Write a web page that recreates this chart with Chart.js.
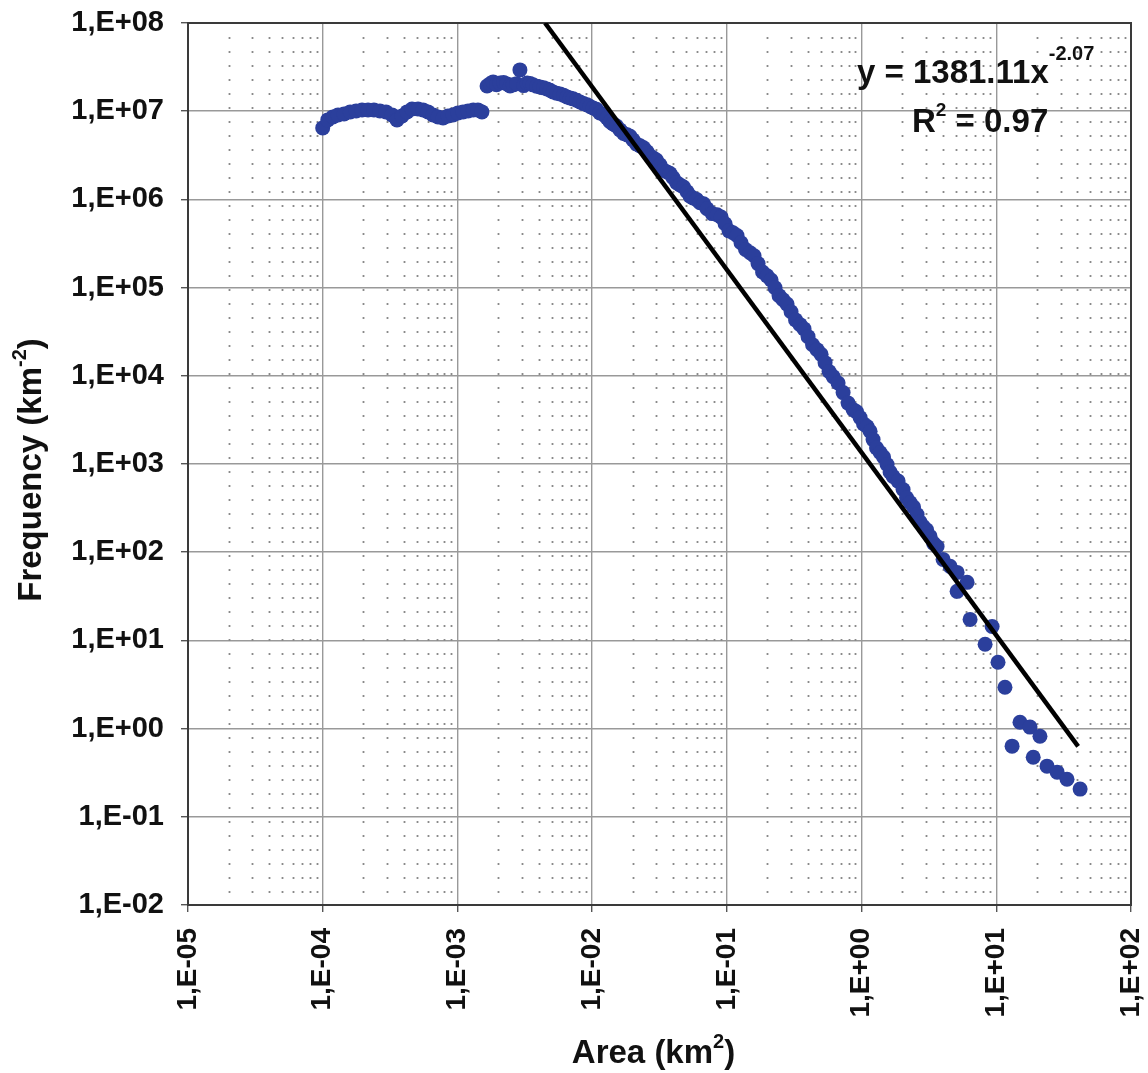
<!DOCTYPE html>
<html>
<head>
<meta charset="utf-8">
<script src="https://cdn.jsdelivr.net/npm/chart.js@4/dist/chart.umd.min.js"></script>
<style>
  html, body { margin: 0; padding: 0; background: #ffffff; }
  #c { display: block; }
</style>
</head>
<body>
<canvas id="c" width="1148" height="1073"></canvas>
<script>
// ---- Data ----
const area = [
  // small-area plateau
  1.0e-4, 1.09e-4, 1.19e-4, 1.30e-4, 1.44e-4, 1.60e-4, 1.77e-4, 1.96e-4, 2.17e-4, 2.40e-4,
  2.66e-4, 2.95e-4, 3.27e-4, 3.56e-4, 3.88e-4, 4.23e-4, 4.60e-4, 5.10e-4, 5.56e-4, 6.05e-4,
  6.59e-4, 7.18e-4, 7.82e-4, 8.51e-4, 9.27e-4, 1.01e-3, 1.10e-3, 1.20e-3, 1.31e-3, 1.42e-3,
  1.52e-3,
  // upper branch
  1.66e-3, 1.75e-3, 1.84e-3, 1.95e-3, 2.07e-3, 2.20e-3, 2.33e-3, 2.46e-3, 2.59e-3, 2.75e-3,
  2.91e-3, 3.10e-3, 3.29e-3, 3.46e-3, 3.64e-3, 3.87e-3, 4.10e-3, 4.36e-3, 4.62e-3, 4.87e-3,
  5.13e-3, 5.45e-3, 5.78e-3, 6.13e-3, 6.51e-3, 6.86e-3, 7.22e-3, 7.66e-3, 8.13e-3, 8.63e-3,
  9.17e-3, 9.65e-3, 1.016e-2, 1.076e-2, 1.14e-2, 1.213e-2, 1.29e-2, 1.358e-2, 1.43e-2, 1.517e-2,
  1.61e-2, 1.712e-2, 1.82e-2, 1.913e-2, 2.01e-2, 2.136e-2, 2.27e-2, 2.41e-2, 2.56e-2, 2.69e-2,
  2.83e-2, 3.00e-2, 3.19e-2, 3.39e-2, 3.60e-2, 3.79e-2, 3.99e-2, 4.23e-2, 4.49e-2, 4.77e-2,
  5.07e-2, 5.33e-2, 5.61e-2, 5.95e-2, 6.32e-2, 6.71e-2, 7.13e-2, 7.77e-2, 8.46e-2, 9.06e-2,
  9.70e-2, 0.1038, 0.111, 0.1189, 0.1274, 0.1376, 0.1487, 0.1592, 0.1704, 0.1841,
  0.1988, 0.2129, 0.228, 0.2441, 0.2613, 0.2798, 0.2996, 0.3236, 0.3496, 0.3742,
  0.4006, 0.4327, 0.4673, 0.5004, 0.5358, 0.5737, 0.6143, 0.6693, 0.7292, 0.7942,
  0.865, 0.918, 0.975, 1.035, 1.099, 1.157, 1.217, 1.292, 1.372, 1.456,
  1.546, 1.628, 1.714, 1.867, 2.033, 2.158, 2.291, 2.432, 2.582, 2.718,
  2.861, 3.038, 3.225, 3.424, 3.635, 4.027, 4.54, 5.12, 6.07, 5.12,
  // scattered tail
  6.39, 9.31, 8.26, 10.3, 11.6, 13.1, 15.0, 17.8, 21.1, 18.8,
  23.8, 28.3, 33.5, 41.9
];
const frequency = [
  6.47e6, 7.97e6, 8.62e6, 9.08e6, 9.32e6, 9.82e6, 1.008e7, 1.035e7, 1.035e7, 1.035e7,
  1.008e7, 9.82e6, 9.08e6, 7.97e6, 8.85e6, 9.82e6, 1.06e7, 1.06e7, 1.035e7, 9.82e6,
  9.08e6, 8.62e6, 8.40e6, 8.85e6, 9.08e6, 9.57e6, 9.82e6, 1.008e7, 1.035e7, 1.035e7,
  9.82e6,
  1.93e7, 2.05e7, 2.15e7, 2.00e7, 2.09e7, 2.12e7, 2.04e7, 1.93e7, 1.99e7, 2.05e7,
  2.94e7, 1.95e7, 2.09e7, 2.06e7, 1.99e7, 1.92e7, 1.88e7, 1.84e7, 1.79e7, 1.73e7,
  1.65e7, 1.60e7, 1.57e7, 1.52e7, 1.45e7, 1.41e7, 1.38e7, 1.33e7, 1.27e7, 1.22e7,
  1.18e7, 1.13e7, 1.09e7, 1.05e7, 9.57e6, 9.20e6, 8.40e6, 7.60e6, 7.18e6, 6.80e6,
  6.14e6, 5.60e6, 5.39e6, 5.20e6, 4.73e6, 4.25e6, 4.05e6, 3.85e6, 3.46e6, 3.10e6,
  2.96e6, 2.80e6, 2.47e6, 2.15e6, 2.05e6, 1.96e6, 1.76e6, 1.55e6, 1.46e6, 1.38e6,
  1.22e6, 1.09e6, 1.04e6, 1.00e6, 9.15e5, 8.90e5, 7.83e5, 6.90e5, 6.69e5, 6.30e5,
  5.29e5, 4.40e5, 4.19e5, 3.90e5, 3.22e5, 2.70e5, 2.48e5, 2.30e5, 1.87e5, 1.50e5,
  1.36e5, 1.22e5, 9.97e4, 8.10e4, 7.29e4, 6.50e4, 5.33e4, 4.30e4, 3.80e4, 3.40e4,
  2.78e4, 2.25e4, 1.98e4, 1.75e4, 1.41e4, 1.12e4, 9.79e3, 8.30e3, 6.45e3, 4.90e3,
  4.14e3, 3.90e3, 3.36e3, 2.85e3, 2.66e3, 2.35e3, 1.89e3, 1.52e3, 1.35e3, 1.20e3,
  987, 810, 722, 640, 514, 415, 366, 325, 268, 220,
  196, 180, 151, 126, 116, 82.9, 69.1, 59.0, 45.5, 36.0,
  17.3, 14.4, 9.03, 5.65, 2.94, 0.632, 1.18, 1.04, 0.82, 0.474,
  0.375, 0.321, 0.267, 0.206
];
// Power-law fit line end points (y = 1381.11 x^-2.07)
const fitArea = [0.00447, 40.5];
const fitFreq = [1.0e8, 0.63];

const xTickValues = [1e-5, 1e-4, 1e-3, 1e-2, 1e-1, 1e0, 1e1, 1e2];
const xTickLabels = ['1,E-05', '1,E-04', '1,E-03', '1,E-02', '1,E-01', '1,E+00', '1,E+01', '1,E+02'];
const yTickValues = [1e-2, 1e-1, 1e0, 1e1, 1e2, 1e3, 1e4, 1e5, 1e6, 1e7, 1e8];
const yTickLabels = ['1,E-02', '1,E-01', '1,E+00', '1,E+01', '1,E+02', '1,E+03', '1,E+04', '1,E+05', '1,E+06', '1,E+07', '1,E+08'];

const xTitle = ['Area (km', '2', ')'];
const yTitle = ['Frequency (km', '-2', ')'];
const eqLine1 = ['y = 1381.11x', '-2.07'];
const eqLine2 = ['R', '2', ' = 0.97'];

// ---- Rendering ----
const FONT = "'Liberation Sans', Arial, Helvetica, sans-serif";
const TXT = '#111111';

function drawRich(ctx, parts, x, y, align) {
  // parts: [text, size, isSup, raise]
  let total = 0;
  const w = parts.map(p => { ctx.font = 'bold ' + p[1] + 'px ' + FONT; const m = ctx.measureText(p[0]).width; total += m; return m; });
  let cx = align === 'center' ? x - total / 2 : x;
  parts.forEach((p, i) => {
    ctx.font = 'bold ' + p[1] + 'px ' + FONT;
    ctx.fillText(p[0], cx, y - (p[2] ? p[3] : 0));
    cx += w[i];
  });
}

const decorPlugin = {
  id: 'decor',
  beforeDatasetsDraw(chart) {
    const { ctx, chartArea: ca, scales } = chart;
    const xs = scales.x;
    ctx.save();
    // minor dotted vertical gridlines
    ctx.strokeStyle = '#8a8a8a';
    ctx.lineWidth = 1.8;
    ctx.setLineDash([2, 12]);
    for (let d = -5; d < 2; d++) {
      for (let k = 2; k <= 9; k++) {
        const px = Math.round(xs.getPixelForValue(k * Math.pow(10, d))) + 0.5;
        ctx.beginPath();
        ctx.moveTo(px, ca.top + 14);
        ctx.lineTo(px, ca.bottom);
        ctx.stroke();
      }
    }
    ctx.setLineDash([]);
    // plot frame
    ctx.strokeStyle = '#3a3a3a';
    ctx.lineWidth = 2;
    ctx.strokeRect(ca.left, ca.top, ca.right - ca.left, ca.bottom - ca.top);
    ctx.restore();
  },
  afterDraw(chart) {
    const { ctx, chartArea: ca } = chart;
    ctx.save();
    ctx.fillStyle = TXT;
    ctx.textBaseline = 'alphabetic';
    ctx.textAlign = 'left';
    // x-axis title
    drawRich(ctx, [[xTitle[0], 33], [xTitle[1], 20, true, 15], [xTitle[2], 33]], (ca.left + ca.right) / 2 - 6, 1063, 'center');
    // y-axis title (rotated)
    ctx.translate(41, (ca.top + ca.bottom) / 2 + 6);
    ctx.rotate(-Math.PI / 2);
    drawRich(ctx, [[yTitle[0], 33], [yTitle[1], 20, true, 15], [yTitle[2], 33]], 0, 0, 'center');
    ctx.setTransform(1, 0, 0, 1, 0, 0);
    // regression equation
    drawRich(ctx, [[eqLine1[0], 33], [eqLine1[1], 20, true, 23]], 857, 83, 'left');
    drawRich(ctx, [[eqLine2[0], 33], [eqLine2[1], 19, true, 16], [eqLine2[2], 33]], 912, 132, 'left');
    ctx.restore();
  }
};

const tickFont = (size) => ({ family: FONT, weight: 'bold', size: size });

new Chart(document.getElementById('c').getContext('2d'), {
  type: 'scatter',
  data: {
    datasets: [
      {
        type: 'line',
        data: fitArea.map((x, i) => ({ x: x, y: fitFreq[i] })),
        borderColor: '#000000',
        borderWidth: 4.5,
        pointRadius: 0,
        fill: false,
        tension: 0
      },
      {
        data: area.map((x, i) => ({ x: x, y: frequency[i] })),
        backgroundColor: '#2b3f9c',
        borderWidth: 0,
        pointRadius: 7.5,
        pointHoverRadius: 7.5
      }
    ]
  },
  options: {
    responsive: false,
    animation: false,
    devicePixelRatio: 1,
    layout: { padding: { top: 23, right: 17, left: 0, bottom: 0 } },
    plugins: { legend: { display: false }, tooltip: { enabled: false } },
    scales: {
      x: {
        type: 'logarithmic',
        min: 1e-5, max: 1e2,
        afterBuildTicks: s => { s.ticks = xTickValues.map(v => ({ value: v })); },
        afterFit: s => { s.height = 168; s.paddingLeft = 0; s.paddingRight = 0; },
        ticks: {
          callback: (v, i) => xTickLabels[i],
          minRotation: 90, maxRotation: 90,
          autoSkip: false,
          padding: 16,
          color: TXT,
          font: tickFont(28)
        },
        grid: { color: '#999999', lineWidth: 1.4, tickLength: 7, tickColor: '#555555' },
        border: { color: '#3a3a3a', width: 2 }
      },
      y: {
        type: 'logarithmic',
        min: 1e-2, max: 1e8,
        afterBuildTicks: s => { s.ticks = yTickValues.map(v => ({ value: v })); },
        afterFit: s => { s.width = 188; s.paddingTop = 0; s.paddingBottom = 0; },
        ticks: {
          callback: (v, i) => yTickLabels[i],
          autoSkip: false,
          padding: 17,
          color: TXT,
          font: tickFont(29)
        },
        grid: { color: '#999999', lineWidth: 1.4, tickLength: 7, tickColor: '#555555' },
        border: { color: '#3a3a3a', width: 2 }
      }
    }
  },
  plugins: [decorPlugin]
});
</script>
</body>
</html>
